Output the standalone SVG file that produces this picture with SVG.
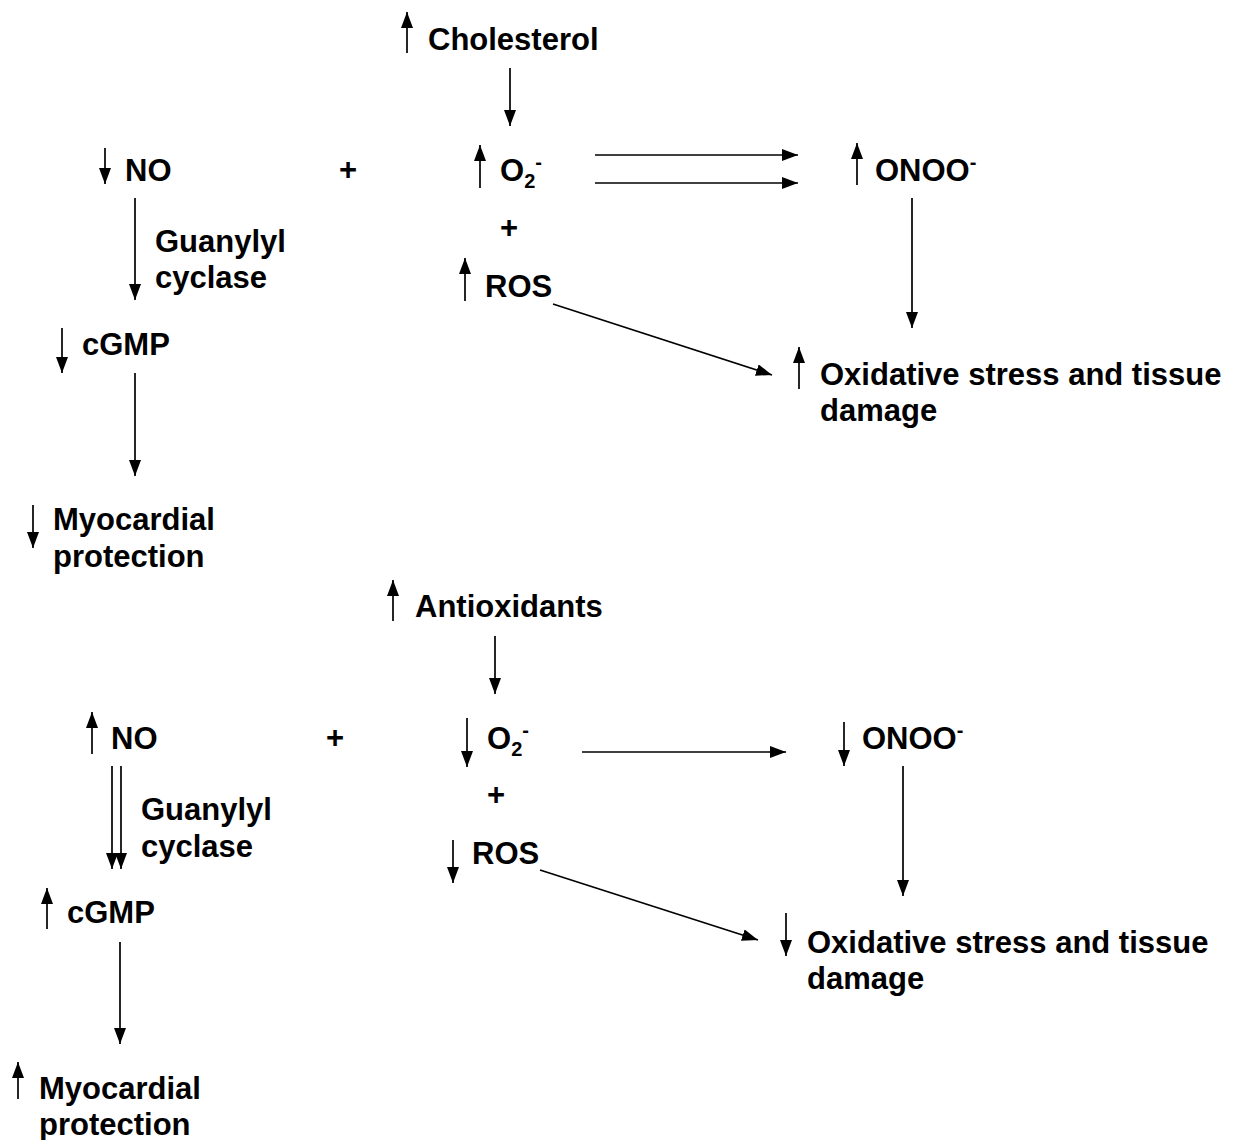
<svg xmlns="http://www.w3.org/2000/svg" width="1238" height="1140" viewBox="0 0 1238 1140">
<defs>
<style>
.t{font-family:"Liberation Sans",Arial,sans-serif;font-weight:bold;font-size:31px;fill:#000}
.sub{font-size:20px}
.c line{stroke:#000;stroke-width:1.7;fill:none;marker-end:url(#ah)}
</style>
<marker id="ah" markerUnits="userSpaceOnUse" markerWidth="16" markerHeight="12" refX="16" refY="6" orient="auto">
<path d="M0,0 L16,6 L0,12 z" fill="#000"/>
</marker>
</defs>
<rect width="1238" height="1140" fill="#fff"/>
<g id="connectors" class="c">
<line x1="407" y1="53" x2="407" y2="12"/>
<line x1="510" y1="68" x2="510" y2="126"/>
<line x1="105" y1="148" x2="105" y2="184"/>
<line x1="480" y1="188" x2="480" y2="145"/>
<line x1="595" y1="155" x2="798" y2="155"/>
<line x1="595" y1="183" x2="798" y2="183"/>
<line x1="857" y1="185" x2="857" y2="143"/>
<line x1="465" y1="301" x2="465" y2="258"/>
<line x1="553" y1="304" x2="772" y2="375"/>
<line x1="135" y1="198" x2="135" y2="300"/>
<line x1="62" y1="328" x2="62" y2="373"/>
<line x1="135" y1="373" x2="135" y2="476"/>
<line x1="33" y1="505" x2="33" y2="548"/>
<line x1="912" y1="198" x2="912" y2="328"/>
<line x1="799" y1="389" x2="799" y2="347"/>
<line x1="393" y1="621" x2="393" y2="580"/>
<line x1="495" y1="636" x2="495" y2="694"/>
<line x1="92" y1="754" x2="92" y2="712"/>
<line x1="467" y1="718" x2="467" y2="767"/>
<line x1="582" y1="752" x2="786" y2="752"/>
<line x1="844" y1="722" x2="844" y2="766"/>
<line x1="453" y1="840" x2="453" y2="883"/>
<line x1="540" y1="870" x2="758" y2="940"/>
<line x1="112" y1="766" x2="112" y2="869"/>
<line x1="121" y1="766" x2="121" y2="869"/>
<line x1="47" y1="929" x2="47" y2="888"/>
<line x1="120" y1="942" x2="120" y2="1044"/>
<line x1="18" y1="1099" x2="18" y2="1062"/>
<line x1="903" y1="766" x2="903" y2="896"/>
<line x1="786" y1="913" x2="786" y2="956"/>
</g>
<g id="top">
<g id="cholesterol"><text class="t" x="428" y="50">Cholesterol</text></g>
<g id="no1"><text class="t" x="125" y="181">NO</text></g>
<g id="plus1"><text class="t" x="339" y="180">+</text></g>
<g id="o2a"><text class="t" x="500" y="181">O<tspan class="sub" dy="7">2</tspan><tspan class="sub" dy="-19">-</tspan></text></g>
<g id="onoo1"><text class="t" x="875" y="181">ONOO<tspan class="sub" dy="-12">-</tspan></text></g>
<g id="plus2"><text class="t" x="500" y="238">+</text></g>
<g id="ros1"><text class="t" x="485" y="297">ROS</text></g>
<g id="gc1"><text class="t" x="155" y="252">Guanylyl</text><text class="t" x="155" y="288">cyclase</text></g>
<g id="cgmp1"><text class="t" x="82" y="355">cGMP</text></g>
<g id="myo1"><text class="t" x="53" y="530">Myocardial</text><text class="t" x="53" y="567">protection</text></g>
<g id="ox1"><text class="t" x="820" y="385">Oxidative stress and tissue</text><text class="t" x="820" y="421">damage</text></g>
</g>
<g id="bottom">
<g id="antiox"><text class="t" x="415" y="617">Antioxidants</text></g>
<g id="no2"><text class="t" x="111" y="749">NO</text></g>
<g id="plus3"><text class="t" x="326" y="748">+</text></g>
<g id="o2b"><text class="t" x="487" y="749">O<tspan class="sub" dy="7">2</tspan><tspan class="sub" dy="-19">-</tspan></text></g>
<g id="onoo2"><text class="t" x="862" y="749">ONOO<tspan class="sub" dy="-12">-</tspan></text></g>
<g id="plus4"><text class="t" x="487" y="805">+</text></g>
<g id="ros2"><text class="t" x="472" y="864">ROS</text></g>
<g id="gc2"><text class="t" x="141" y="820">Guanylyl</text><text class="t" x="141" y="857">cyclase</text></g>
<g id="cgmp2"><text class="t" x="67" y="923">cGMP</text></g>
<g id="myo2"><text class="t" x="39" y="1099">Myocardial</text><text class="t" x="39" y="1135">protection</text></g>
<g id="ox2"><text class="t" x="807" y="953">Oxidative stress and tissue</text><text class="t" x="807" y="989">damage</text></g>
</g>
</svg>
